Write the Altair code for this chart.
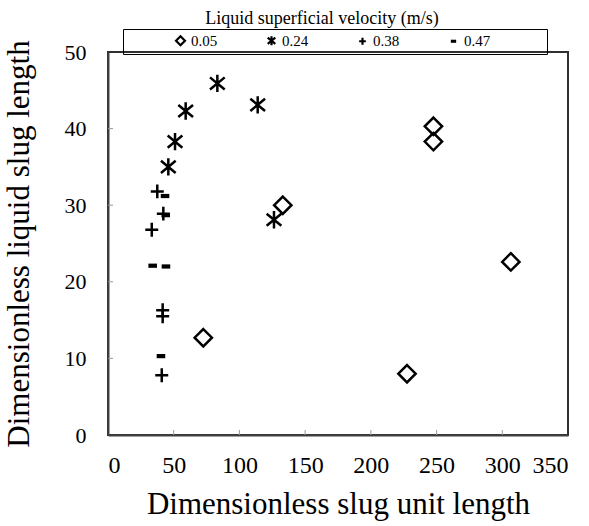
import altair as alt
import pandas as pd

velocity_labels = ["0.05", "0.24", "0.38", "0.47"]

x_005 = [72.5, 133.0, 227.5, 247.6, 247.6, 306.5]
y_005 = [12.7, 30.0, 8.0, 40.3, 38.3, 22.6]
x_024 = [45.9, 51.0, 59.1, 83.2, 113.9, 126.3]
y_024 = [35.0, 38.3, 42.3, 45.9, 43.1, 28.1]
x_038 = [37.5, 42.1, 33.3, 41.6, 41.6, 40.9]
y_038 = [31.8, 28.9, 26.8, 16.3, 15.5, 7.8]
x_047 = [43.4, 43.9, 34.0, 44.1, 40.3]
y_047 = [31.2, 28.7, 22.1, 22.0, 10.3]

x_ticks = [0, 50, 100, 150, 200, 250, 300, 350]
y_ticks = [0, 10, 20, 30, 40, 50]
x_inner_ticks = [50, 100, 150, 200, 250, 300]
y_inner_ticks = [10, 20, 30, 40]

rows = []
for lab, xs, ys in zip(velocity_labels, [x_005, x_024, x_038, x_047], [y_005, y_024, y_038, y_047]):
    for a, b in zip(xs, ys):
        rows.append({"L": a, "S": b, "v": lab})
df = pd.DataFrame(rows)

shape_paths = [
    "M0,-1L1,0L0,1L-1,0Z",
    "M-0.85,-0.7L0.85,0.7M-0.85,0.7L0.85,-0.7M0,-1L0,1",
    "M-0.75,0L0.75,0M0,-0.8L0,0.8",
    "M-0.35,-0.1L0.35,-0.1L0.35,0.1L-0.35,0.1Z",
]

FONT = "Liberation Serif"
W, H = 460, 383

x_scale = alt.Scale(domain=[0, 350], nice=False, zero=False)
y_scale = alt.Scale(domain=[0, 50], nice=False, zero=False)

pad_last = "\u2003" * 3 + "\u2002" + "\u200b"

points = alt.Chart(df).mark_point(
    filled=False, strokeWidth=2.5, size=300, color="black", opacity=1
).encode(
    x=alt.X("L:Q", scale=x_scale,
            axis=alt.Axis(values=x_ticks, title="Dimensionless slug unit length",
                          ticks=False, labelPadding=18, titlePadding=12,
                          labelFontSize=24, titleFontSize=31)),
    y=alt.Y("S:Q", scale=y_scale,
            axis=alt.Axis(values=y_ticks, title="Dimensionless liquid slug length",
                          ticks=False, labelPadding=22, titlePadding=29,
                          labelFontSize=22, titleFontSize=31)),
    shape=alt.Shape("v:N", scale=alt.Scale(domain=velocity_labels, range=shape_paths),
                    legend=alt.Legend(title=None, orient="none", legendX=15, legendY=-23,
                                      direction="horizontal", columns=4,
                                      strokeColor="black", padding=4,
                                      symbolSize=80, symbolStrokeWidth=2.2,
                                      symbolStrokeColor="black", symbolFillColor="transparent",
                                      symbolOffset=46, columnPadding=0,
                                      labelExpr="datum.label == '0.47' ? datum.label + '" + pad_last + "' : datum.label",
                                      labelFont=FONT, labelFontSize=15, labelColor="black",
                                      labelOffset=3)),
)

xt = alt.Chart(pd.DataFrame({"t": x_inner_ticks})).mark_rule(color="#999999", strokeWidth=1).encode(
    x=alt.X("t:Q", scale=x_scale),
    y=alt.value(H), y2=alt.value(H - 5),
)
yt = alt.Chart(pd.DataFrame({"t": y_inner_ticks})).mark_rule(color="#999999", strokeWidth=1).encode(
    y=alt.Y("t:Q", scale=y_scale),
    x=alt.value(0), x2=alt.value(5),
)

chart = alt.layer(points, xt, yt).properties(
    width=W, height=H,
    title=alt.Title("Liquid superficial velocity (m/s)", font=FONT, fontSize=18,
                    fontWeight="normal", color="black", anchor="middle", dx=-16, offset=1),
    autosize=alt.AutoSizeParams(type="none"),
    padding={"left": 108, "top": 52, "right": 21, "bottom": 91},
    background="white",
).configure_axis(
    labelFont=FONT, labelColor="black",
    titleFont=FONT, titleFontWeight="normal", titleColor="black",
    domainColor="#404040", domainWidth=2, grid=False,
).configure_view(
    stroke="#303030", strokeWidth=2
)

chart.save("out.html", embed_options={"renderer": "svg", "actions": False})
